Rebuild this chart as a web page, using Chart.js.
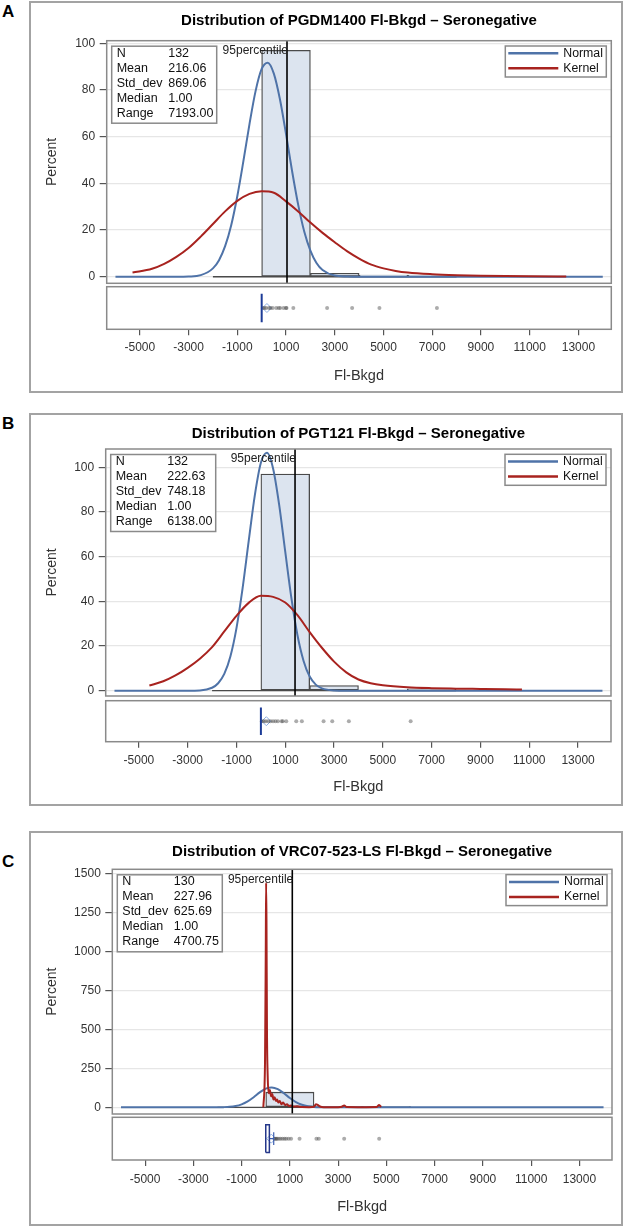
<!DOCTYPE html>
<html>
<head>
<meta charset="utf-8">
<script src="https://cdn.jsdelivr.net/npm/chart.js@4.4.1/dist/chart.umd.min.js"></script>
<style>
  body { margin: 0; background: #fff; width: 626px; height: 1226px; position: relative; overflow: hidden; }
  .frame { position: absolute; left: 29px; width: 594px; box-sizing: border-box; border: 2px solid #a3a3a3; }
  .tag { position: absolute; left: 2px; font: bold 17px "Liberation Sans", Arial, sans-serif; line-height: 1; color: #000; }
  canvas { position: absolute; left: 0; }
</style>
</head>
<body>
<div class="frame" style="top:1px;height:392px"></div>
<div class="frame" style="top:413px;height:393px"></div>
<div class="frame" style="top:831px;height:395px"></div>
<div class="tag" style="top:3px">A</div>
<div class="tag" style="top:415px">B</div>
<div class="tag" style="top:853px">C</div>
<canvas id="chartA" width="626" height="390" style="top:2px"></canvas>
<canvas id="chartB" width="626" height="391" style="top:414px"></canvas>
<canvas id="chartC" width="626" height="393" style="top:832px"></canvas>
<script>
// shared
var xTicks = [-5000, -3000, -1000, 1000, 3000, 5000, 7000, 9000, 11000, 13000];
var statLabels = ['N', 'Mean', 'Std_dev', 'Median', 'Range'];
var curveX = [-6000, -3500, -3000, -2500, -2000, -1750, -1500, -1250, -1000, -750, -500, -250, 0,
  250, 500, 750, 1000, 1250, 1500, 1750, 2000, 2250, 2500, 3000, 3500, 4000, 14000];

// panel A - PGDM1400
var titleA = 'Distribution of PGDM1400 Fl-Bkgd \u2013 Seronegative';
var statsA = ['132', '216.06', '869.06', '1.00', '7193.00'];
var yTicksA = [0, 20, 40, 60, 80, 100];
var binsA = [-1000, 1000, 3000, 5000, 7000];
var histA = [0, 97.0, 1.5, 0.76, 0.76];
var normalA = [0, 0, 0.1, 0.7, 3.6, 7.1, 13.1, 22.1, 34.5, 49.5, 65.4, 79.5, 89.0,
  91.7, 87.0, 76.0, 61.1, 45.2, 30.8, 19.3, 11.2, 5.9, 2.9, 0.5, 0.1, 0, 0];
var kernelXA = [-5300, -4500, -4000, -3500, -3000, -2500, -2000, -1500, -1000, -500, 0, 500, 1000, 1500,
  2000, 2500, 3000, 3500, 4000, 4500, 5000, 5500, 6000, 7000, 8000, 9000, 10000, 11000, 12500];
var kernelYA = [1.8, 3.4, 5.5, 8.5, 12.3, 17.2, 22.6, 28.0, 32.5, 35.5, 36.6, 36.0, 32.3, 28.0,
  23.2, 18.8, 14.8, 11.0, 7.8, 5.2, 3.6, 2.5, 1.8, 1.1, 0.7, 0.45, 0.3, 0.2, 0.1];
var pctA = 1040;
var medianA = 1, meanA = 216.06;
var pointsA = [50, 120, 180, 300, 360, 450, 600, 700, 760, 900, 1000, 1020, 1300, 2686, 3713, 4834, 7193];

// panel B - PGT121
var titleB = 'Distribution of PGT121 Fl-Bkgd \u2013 Seronegative';
var statsB = ['132', '222.63', '748.18', '1.00', '6138.00'];
var yTicksB = [0, 20, 40, 60, 80, 100];
var binsB = [-1000, 1000, 3000, 5000, 7000];
var histB = [0, 97.0, 2.3, 0, 0.76];
var normalB = [0, 0, 0, 0.1, 1.3, 3.3, 7.5, 15.3, 28.0, 45.8, 66.9, 87.3, 102.0,
  106.5, 99.5, 83.2, 62.1, 41.5, 24.8, 13.3, 6.3, 2.7, 1.0, 0.1, 0, 0, 0];
var kernelXB = [-4570, -4000, -3500, -3000, -2500, -2000, -1500, -1000, -500, 0, 500, 1000, 1500,
  2000, 2500, 3000, 3500, 4000, 4500, 5000, 6000, 7000, 8000, 9000, 10000, 10700];
var kernelYB = [2.3, 4.2, 6.8, 10.2, 14.3, 19.5, 26.5, 33.5, 39.3, 42.5, 42.0, 39.5, 33.8,
  26.2, 19.2, 13.0, 8.2, 5.0, 3.3, 2.4, 1.5, 1.1, 0.9, 0.75, 0.6, 0.5];
var pctB = 1400;
var medianB = 1, meanB = 222.63;
var pointsB = [40, 120, 200, 300, 400, 500, 600, 700, 850, 900, 1040, 1450, 1680, 2570, 2925, 3606, 6138];

// panel C - VRC07-523-LS
var titleC = 'Distribution of VRC07-523-LS Fl-Bkgd \u2013 Seronegative';
var statsC = ['130', '227.96', '625.69', '1.00', '4700.75'];
var yTicksC = [0, 250, 500, 750, 1000, 1250, 1500];
var binsC = [-1000, 1000, 3000, 5000];
var histC = [0, 96.9, 2.3, 0.77];
var normalC = [0, 0, 0, 0, 0.2, 0.9, 2.8, 7.8, 18.6, 37.6, 64.8, 95.2, 119.3,
  127.4, 116.0, 90.0, 59.6, 33.6, 16.1, 6.6, 2.3, 0.7, 0.2, 0, 0, 0, 0];
var kernelXC = [-100, -30, 0, 15, 30, 50, 80, 120, 170, 220, 270, 320, 370, 420, 470, 520, 580, 650, 720,
  800, 880, 960, 1050, 1150, 1300, 1500, 1800, 2000, 2080, 2150, 2250, 2400, 3000, 3150, 3250, 3350,
  4000, 4600, 4700, 4780];
var kernelYC = [0, 300, 1000, 1440, 1200, 500, 200, 90, 110, 70, 85, 50, 65, 40, 50, 30, 40, 20, 30,
  15, 20, 8, 12, 5, 6, 2, 1, 3, 20, 15, 5, 1, 1, 3, 12, 2, 1, 2, 15, 2];
var pctC = 1100;
var medianC = 1, meanC = 227.96;
var boxC = [0, 150, 330];   // q1, q3, upper whisker
var pointsC = [360, 400, 440, 480, 550, 620, 700, 780, 850, 950, 1050, 1400, 2100, 2200, 3250, 4700];

var NORMAL = '#4f73a8', KERNEL = '#a8231f', FONT = '"Liberation Sans", Arial, sans-serif';
Chart.defaults.font.family = FONT;

function xy(xs, ys) { return xs.map(function (x, i) { return { x: x, y: ys[i] }; }); }

function decorPlugin(p) {
  return {
    id: 'decor',
    afterDatasetsDraw: function (chart) {
      var ctx = chart.ctx, a = chart.chartArea, ys = chart.scales.y, yb = chart.scales.yb, xs = chart.scales.x;
      var w = a.right - a.left;
      ctx.save();
      ctx.strokeStyle = '#8a8a8a';
      ctx.lineWidth = 1.5;
      ctx.strokeRect(a.left, ys.top, w, ys.bottom - ys.top);
      var st = yb.getPixelForValue(1), sb = yb.getPixelForValue(-1);
      ctx.strokeRect(a.left, st, w, sb - st);

      // 95 percentile label
      ctx.fillStyle = '#222';
      ctx.font = '12px ' + FONT;
      ctx.textAlign = 'right';
      ctx.textBaseline = 'middle';
      ctx.fillText('95percentile', xs.getPixelForValue(p.pct) + 1, ys.top + 10);

      // stats inset
      var bx = a.left + 5, by = ys.top + 5.5;
      ctx.fillStyle = '#fff';
      ctx.fillRect(bx, by, 105, 77);
      ctx.strokeRect(bx, by, 105, 77);
      ctx.fillStyle = '#111';
      ctx.font = '12.5px ' + FONT;
      ctx.textAlign = 'left';
      statLabels.forEach(function (lab, i) {
        var ty = ys.top + 12.6 + i * 15;
        ctx.fillText(lab, bx + 5, ty);
        ctx.fillText(p.stats[i], bx + 56.5, ty);
      });

      // legend
      var lx = a.right - 106, ly = ys.top + 5.3;
      ctx.fillStyle = '#fff';
      ctx.fillRect(lx, ly, 101, 31);
      ctx.strokeRect(lx, ly, 101, 31);
      [['Normal', NORMAL], ['Kernel', KERNEL]].forEach(function (it, i) {
        var ty = ys.top + 12.6 + i * 15;
        ctx.strokeStyle = it[1];
        ctx.lineWidth = 2.5;
        ctx.beginPath();
        ctx.moveTo(lx + 3, ty);
        ctx.lineTo(lx + 53, ty);
        ctx.stroke();
        ctx.fillStyle = '#111';
        ctx.font = '12.3px ' + FONT;
        ctx.fillText(it[0], lx + 58, ty);
      });
      ctx.restore();
    }
  };
}

function buildPanel(id, d, L) {
  var fs = 15, lh = fs * 1.2;
  var padTop = L.titleY - lh / 2;
  var ybMax = -1 + 2 * L.stripStack / L.stripFrame;
  var left = d.bins[0] - 1000, right = d.bins[d.bins.length - 1] + 1000;

  var datasets = [
    { type: 'line', yAxisID: 'y', data: [{ x: d.pct, y: L.yMin }, { x: d.pct, y: L.yMax }], borderColor: '#000',
      borderWidth: 1.6, pointRadius: 0, order: 1 },
    { type: 'line', yAxisID: 'y', data: xy(d.kx, d.ky), borderColor: KERNEL, borderWidth: 2, pointRadius: 0,
      cubicInterpolationMode: 'monotone', order: 2 },
    { type: 'line', yAxisID: 'y', data: xy(curveX, d.normal), borderColor: NORMAL, borderWidth: 2, pointRadius: 0,
      cubicInterpolationMode: 'monotone', order: 3 },
    { type: 'line', yAxisID: 'y', data: [{ x: left, y: 0 }, { x: right, y: 0 }], borderColor: '#4a4a4a',
      borderWidth: 1.3, pointRadius: 0, order: 4 },
    { type: 'bar', yAxisID: 'y', data: xy(d.bins, d.hist), backgroundColor: '#dce4ef', borderColor: '#4a4a4a',
      borderWidth: 1.3, borderSkipped: false, barPercentage: 1, categoryPercentage: 1, order: 5 },
    { type: 'scatter', yAxisID: 'yb', data: d.points.map(function (v) { return { x: v, y: 0 }; }),
      pointRadius: 2, pointBackgroundColor: 'rgba(70,70,70,0.45)', pointBorderWidth: 0, order: 6 },
    { type: 'scatter', yAxisID: 'yb', data: [{ x: d.mean, y: 0 }], pointStyle: 'rectRot', pointRadius: 4.5,
      pointBorderColor: '#8eaee0', pointBackgroundColor: 'rgba(255,255,255,0)', pointBorderWidth: 1, order: 7 }
  ];
  if (d.box) {
    var h = 0.65;
    datasets.push({ type: 'line', yAxisID: 'yb', data: [{ x: d.box[0], y: -h }, { x: d.box[1], y: -h },
      { x: d.box[1], y: h }, { x: d.box[0], y: h }, { x: d.box[0], y: -h }],
      borderColor: '#24378a', borderWidth: 1.5, pointRadius: 0, order: 0 });
    datasets.push({ type: 'line', yAxisID: 'yb', data: [{ x: d.box[1], y: 0 }, { x: d.box[2], y: 0 }],
      borderColor: '#3d5fb0', borderWidth: 1.2, pointRadius: 0, order: 0 });
    datasets.push({ type: 'line', yAxisID: 'yb', data: [{ x: d.box[2], y: -0.3 }, { x: d.box[2], y: 0.3 }],
      borderColor: '#3d5fb0', borderWidth: 1.2, pointRadius: 0, order: 0 });
  } else {
    datasets.push({ type: 'line', yAxisID: 'yb', data: [{ x: d.median, y: -0.67 }, { x: d.median, y: 0.67 }],
      borderColor: '#1c3b97', borderWidth: 2, pointRadius: 0, order: 0 });
  }

  return new Chart(document.getElementById(id), {
    type: 'line',
    data: { datasets: datasets },
    options: {
      responsive: false,
      animation: false,
      events: [],
      layout: { padding: { left: 43.6, right: 626 - L.right, top: 0, bottom: 0 } },
      plugins: {
        legend: { display: false },
        tooltip: { enabled: false },
        title: {
          display: true, text: d.title, fullSize: false, color: '#000',
          font: { size: fs, weight: 'bold' },
          padding: { top: padTop, bottom: L.chartTop - padTop - lh }
        }
      },
      scales: {
        x: {
          type: 'linear', min: -6360, max: 14350, offset: false,
          afterBuildTicks: function (s) { s.ticks = xTicks.map(function (v) { return { value: v }; }); },
          afterFit: function (s) { s.height = L.xH; },
          border: { display: false },
          grid: { offset: false, drawOnChartArea: false, drawTicks: true, tickLength: 6, tickColor: '#555', lineWidth: 1.2 },
          ticks: { padding: L.tickPad, color: '#333', font: { size: 12 }, maxRotation: 0, autoSkip: false,
            callback: function (v) { return String(v); } },
          title: { display: true, text: 'Fl-Bkgd', color: '#333', font: { size: 14.5 },
            padding: { top: 0, bottom: L.titlePad } }
        },
        y: {
          type: 'linear', position: 'left', stack: 'p', stackWeight: L.mainStack, weight: 1,
          min: L.yMin, max: L.yMax,
          afterBuildTicks: function (s) { s.ticks = d.yTicks.map(function (v) { return { value: v }; }); },
          afterFit: function (s) { s.width = L.left - 43.6; },
          border: { display: false },
          grid: { color: '#e6e6e6', tickColor: '#555', tickLength: 7, lineWidth: 1.2 },
          ticks: { padding: 4.5, color: '#333', font: { size: 12 }, callback: function (v) { return String(v); } },
          title: { display: true, text: 'Percent', color: '#333', font: { size: 14 }, padding: 0 }
        },
        yb: {
          type: 'linear', position: 'left', stack: 'p', stackWeight: L.stripStack, weight: 0,
          min: -1, max: ybMax,
          afterBuildTicks: function (s) { s.ticks = []; },
          afterFit: function (s) { s.width = L.left - 43.6; },
          border: { display: false },
          grid: { display: false },
          ticks: { display: false }
        }
      }
    },
    plugins: [decorPlugin(d)]
  });
}

buildPanel('chartA', {
  title: titleA, stats: statsA, yTicks: yTicksA, bins: binsA, hist: histA, normal: normalA,
  kx: kernelXA, ky: kernelYA, pct: pctA, median: medianA, mean: meanA, points: pointsA
}, { left: 106.7, right: 611.3, titleY: 18.7, chartTop: 38.7, mainStack: 242.6, stripStack: 46,
  stripFrame: 42.6, xH: 62.7, tickPad: 5.5, titlePad: 7.3, yMin: -2.8, yMax: 101.1 });

buildPanel('chartB', {
  title: titleB, stats: statsB, yTicks: yTicksB, bins: binsB, hist: histB, normal: normalB,
  kx: kernelXB, ky: kernelYB, pct: pctB, median: medianB, mean: meanB, points: pointsB
}, { left: 105.7, right: 611, titleY: 20, chartTop: 35, mainStack: 247, stripStack: 45.7,
  stripFrame: 41, xH: 63.3, tickPad: 5.8, titlePad: 9.6, yMin: -2.4, yMax: 108.2 });

buildPanel('chartC', {
  title: titleC, stats: statsC, yTicks: yTicksC, bins: binsC, hist: histC, normal: normalC,
  kx: kernelXC, ky: kernelYC, pct: pctC, median: medianC, mean: meanC, points: pointsC, box: boxC
}, { left: 112.3, right: 612, titleY: 19.7, chartTop: 37.3, mainStack: 244.7, stripStack: 46,
  stripFrame: 42.7, xH: 65, tickPad: 6.1, titlePad: 9.6, yMin: -43, yMax: 1525 });
</script>
</body>
</html>
